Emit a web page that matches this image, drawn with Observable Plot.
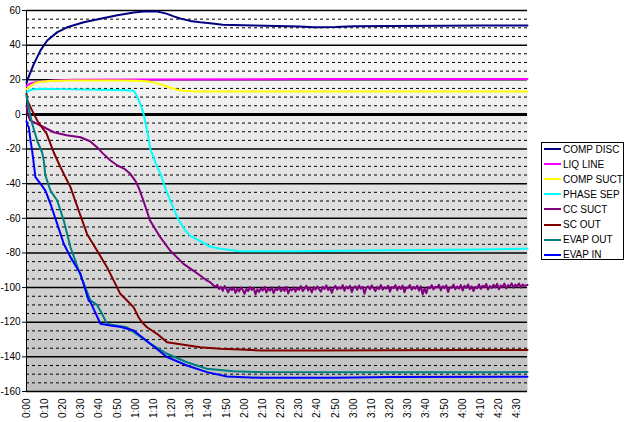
<!DOCTYPE html>
<html><head><meta charset="utf-8">
<script src="https://cdn.jsdelivr.net/npm/d3@7"></script>
<script src="https://cdn.jsdelivr.net/npm/@observablehq/plot@0.6"></script>
<style>
body{margin:0;background:#fff;}
#wrap{position:relative;width:625px;height:422px;overflow:hidden;}
#legend{position:absolute;left:541px;top:142px;width:83px;height:118px;border:1px solid #000;background:#fff;font:10px "Liberation Sans",Arial,sans-serif;box-sizing:border-box;color:#000;}
.row{position:absolute;left:2px;height:12px;display:flex;align-items:center;white-space:nowrap;}
.sw{width:17px;height:2px;margin-right:2px;}
</style></head>
<body><div id="wrap"><div id="legend"></div></div>
<script>
// ---- data (time in minutes, temperature) ----
const seriesNames = ["COMP DISC","LIQ LINE","COMP SUCT","PHASE SEP","CC SUCT","SC OUT","EVAP OUT","EVAP IN"];
const seriesColors = ["#000080","#ff00ff","#ffff00","#00ffff","#800080","#800000","#008080","#0000ff"];

const compDisc = [[0,18],[0.5,20],[4,29],[7.7,37],[11.4,42.7],[17,47.5],[22.4,50.3],[31.5,53.2],[40.7,55.2],[50,57.3],[59,58.8],[66,59.6],[72,59.4],[77,58.2],[81,56.6],[84.6,55.4],[90,54],[95.6,53.2],[101,52.6],[108,51.8],[125,51.3],[150,50.8],[158,50.3],[170,50.5],[180,50.9],[200,51.1],[230,51.2],[250,51.3],[275.7,51.3]];
const liqLine = [[0,16.5],[2,17.8],[5,18.6],[8,19],[15,19.6],[25,20],[60,20.1],[150,20.4],[275.7,20.5]];
const compSuct = [[0,14.5],[1,15.5],[3,17],[6,18.6],[12,19.3],[25,19.6],[50,19.6],[60,19.5],[66,19.2],[70,18.5],[74,17.3],[78,15.8],[82,14.5],[86,13.7],[92,13.3],[150,13.2],[275.7,13.2]];
const phaseSep = [[0,12.5],[1,13.5],[3,14.4],[8,14.8],[20,14.6],[40,14.2],[55,14],[59,13.6],[61,10],[63,5],[64.5,0],[66.5,-10],[68.2,-20],[71,-28],[74,-35],[76.5,-43],[80,-52],[83.5,-60.5],[87,-66.5],[90,-70],[95.6,-73.2],[101,-76.3],[106.6,-77.6],[117.6,-79],[150,-79],[200,-78.5],[250,-78],[275.7,-77.5]];
const ccSuct = [[0,5],[0.8,0],[2,-3.5],[4,-4.5],[7.7,-6.4],[15,-10.3],[22,-12],[29.7,-13.2],[35,-15.5],[38.8,-18.9],[42,-22.5],[46.2,-26.6],[50,-29.5],[54,-31.5],[57.1,-34.3],[60,-38.5],[62,-43],[64.3,-49.7],[68,-61.3],[73.6,-70.9],[79,-78.6],[86.4,-86.3],[91.8,-90.2],[95.6,-93],[99,-95.8],[101,-96.9],
 [102,-97.8],[103,-98.9],[104,-99.5],[105,-98.4],[106,-100.8],[107,-99.6],[108,-101.9],[109,-99.1],[110,-100.7],[111,-102.8],[112,-100.2],[113,-101.5],[114,-99.8],[115,-103.1],[116,-100.6],[117,-102.2],[118,-99.9],[119,-101.4],[120,-103.6],[121,-100.8],[122,-102.0],[123,-99.7],[124,-101.3],[125,-100.1],[126,-103.9],[127,-101.0],[128,-102.5],[129,-100.4],[130,-101.7],[131,-99.6],[132,-102.9],[133,-100.5],[134,-101.8],[135,-99.9],[136,-103.2],[137,-100.7],[138,-101.5],[139,-99.4],[140,-102.1],[141,-100.3],[142,-101.9],[143,-99.5],[144,-103.4],[145,-100.8],[146,-101.6],[147,-99.8],[148,-102.4],[149,-100.2],[150,-101.3],[151,-99.1],[152,-102.0],[153,-100.6],[154,-98.9],[155,-101.7],[156,-100.0],[157,-102.8],[158,-99.7],[159,-101.2],[160,-99.3],[161,-100.9],[162,-102.3],[163,-99.6],[164,-100.8],[165,-98.7],[166,-101.4],[167,-99.9],[168,-103.0],[169,-100.2],[170,-99.0],[171,-101.1],[172,-99.8],[173,-100.7],[174,-98.6],[175,-101.9],[176,-99.4],[177,-100.5],[178,-98.9],[179,-102.6],[180,-100.0],[181,-99.2],[182,-101.3],[183,-98.8],[184,-100.6],[185,-99.5],[186,-103.5],[187,-100.1],[188,-99.3],[189,-101.0],[190,-98.7],[191,-100.4],[192,-102.1],[193,-99.6],[194,-100.9],[195,-98.5],[196,-101.2],[197,-99.8],[198,-100.6],[199,-98.9],[200,-102.4],[201,-99.7],[202,-100.3],[203,-98.6],[204,-101.5],[205,-99.4],[206,-100.8],[207,-98.8],[208,-102.7],[209,-99.9],[210,-100.2],[211,-98.5],[212,-101.3],[213,-99.6],[214,-100.7],[215,-98.9],[216,-101.8],[217,-99.3],[218,-104.0],[219,-100.5],[220,-103.2],[221,-99.7],[222,-100.4],[223,-98.6],[224,-101.1],[225,-99.5],[226,-100.0],[227,-98.4],[228,-101.6],[229,-99.2],[230,-100.3],[231,-98.7],[232,-102.5],[233,-99.8],[234,-100.1],[235,-98.3],[236,-101.0],[237,-99.4],[238,-100.6],[239,-98.5],[240,-101.7],[241,-99.0],[242,-100.2],[243,-98.2],[244,-100.9],[245,-99.3],[246,-102.0],[247,-99.6],[248,-100.4],[249,-98.1],[250,-100.8],[251,-98.9],[252,-99.7],[253,-97.9],[254,-101.2],[255,-99.1],[256,-100.3],[257,-98.4],[258,-99.9],[259,-97.8],[260,-101.0],[261,-98.8],[262,-99.6],[263,-97.7],[264,-100.5],[265,-98.6],[266,-99.4],[267,-97.5],[268,-100.1],[269,-98.3],[270,-99.2],[271,-97.6],[272,-100.0],[273,-98.2],[274,-99.1],[275.7,-98.4]];
const scOut = [[0,12],[0.4,8],[4,0.3],[5.9,-3.5],[7.7,-6.4],[11,-11],[15,-22],[18.7,-30.5],[24.2,-42],[28.7,-55.5],[33.3,-69],[38.8,-78.6],[44.3,-88.2],[51.6,-103.6],[55.3,-107.5],[58.9,-111.3],[61.7,-117.1],[63.6,-120],[66.3,-122.9],[71.8,-126.7],[77.3,-131.5],[82.8,-132.4],[95.6,-134.4],[106.6,-135.3],[117.6,-135.7],[128.6,-136.3],[160,-136.3],[200,-136.2],[240,-136],[275.7,-136]];
const evapOut = [[0,11],[1,5],[3,-5],[6,-15.5],[8.6,-22],[9.5,-26.6],[10.4,-35.3],[13.2,-44],[16.9,-49.7],[20.5,-61.3],[24.2,-76.7],[28.7,-90],[32,-99],[35.2,-107.4],[38.8,-110],[41.5,-115],[44.3,-121],[50,-122],[55.3,-122.9],[59,-125.7],[68.1,-132.4],[77.3,-138.2],[88.3,-143.1],[99.3,-146.9],[113.7,-148.3],[128.6,-148.8],[200,-148.9],[275.7,-148.8]];
const evapIn = [[0,-4],[0.5,-6],[1.3,-7.4],[2.2,-15.1],[3.1,-20.8],[4.9,-36.2],[7.7,-40],[10.4,-44],[13.2,-51.6],[16.9,-63.2],[20.5,-74.7],[24.2,-82.4],[29.7,-92],[34.2,-107.4],[35.2,-108.4],[40.7,-120.9],[46.2,-121.9],[52,-122.8],[59,-124.8],[68.1,-132.4],[77.3,-140.1],[88.3,-145],[99.3,-148.8],[110.3,-151.3],[128.6,-152.1],[170,-152],[200,-151.6],[275.7,-151.5]];

const seriesData = [compDisc, liqLine, compSuct, phaseSep, ccSuct, scOut, evapOut, evapIn];

const yMajor = [-160,-140,-120,-100,-80,-60,-40,-20,0,20,40,60];
const yMinor = d3.range(-155, 60, 5).filter(v => v % 20 !== 0);
const xTicks = [0,10,20,30,40,50,60,70,80,90,100,110,120,130,140,150,160,170,180,190,200,210,220,230,240,250,260,270];
const fmtTime = m => `${Math.floor(m/60)}:${String(m%60).padStart(2,"0")}`;

const font = '"Liberation Sans", Arial, sans-serif';

const lines = seriesData.map((data, i) =>
  Plot.line(data, {x: d => d[0], y: d => d[1], stroke: seriesColors[i], strokeWidth: 2})
);

const chart = Plot.plot({
  width: 625, height: 422,
  marginLeft: 26, marginRight: 98, marginTop: 10, marginBottom: 31,
  style: {fontFamily: font, fontSize: "10px", background: "transparent", color: "#000"},
  x: {domain: [0, 275.7]},
  y: {domain: [-160, 60]},
  marks: [
    Plot.frame({fill: "url(#plotBg)", stroke: "none"}),
    Plot.ruleY(yMinor, {stroke: "#000", strokeWidth: 1, strokeDasharray: "3,3"}),
    Plot.ruleY(yMajor, {stroke: "#000", strokeWidth: 1.5}),
    Plot.ruleY([0], {stroke: "#000", strokeWidth: 3}),
    Plot.ruleX([0], {stroke: "#000", strokeWidth: 1}),
    Plot.axisY({ticks: yMajor, tickSize: 4, tickPadding: 2, tickFormat: d => String(d), label: null}),
    Plot.axisX({ticks: xTicks, tickFormat: fmtTime, tickRotate: -90, tickSize: 0, tickPadding: 7, label: null}),
    ...lines
  ]
});

d3.select(chart).insert("defs", ":first-child").html(
  '<linearGradient id="plotBg" x1="0" y1="0" x2="0" y2="1">' +
  '<stop offset="0" stop-color="#ffffff"/><stop offset="1" stop-color="#bfbfbf"/></linearGradient>'
);

document.getElementById("wrap").prepend(chart);

const legend = document.getElementById("legend");
seriesNames.forEach((name, i) => {
  const row = document.createElement("div");
  row.className = "row";
  row.style.top = (0 + 15.1 * i) + "px";
  const sw = document.createElement("div");
  sw.className = "sw";
  sw.style.background = seriesColors[i];
  const tx = document.createElement("span");
  tx.textContent = name;
  row.appendChild(sw); row.appendChild(tx);
  legend.appendChild(row);
});
</script></body></html>
